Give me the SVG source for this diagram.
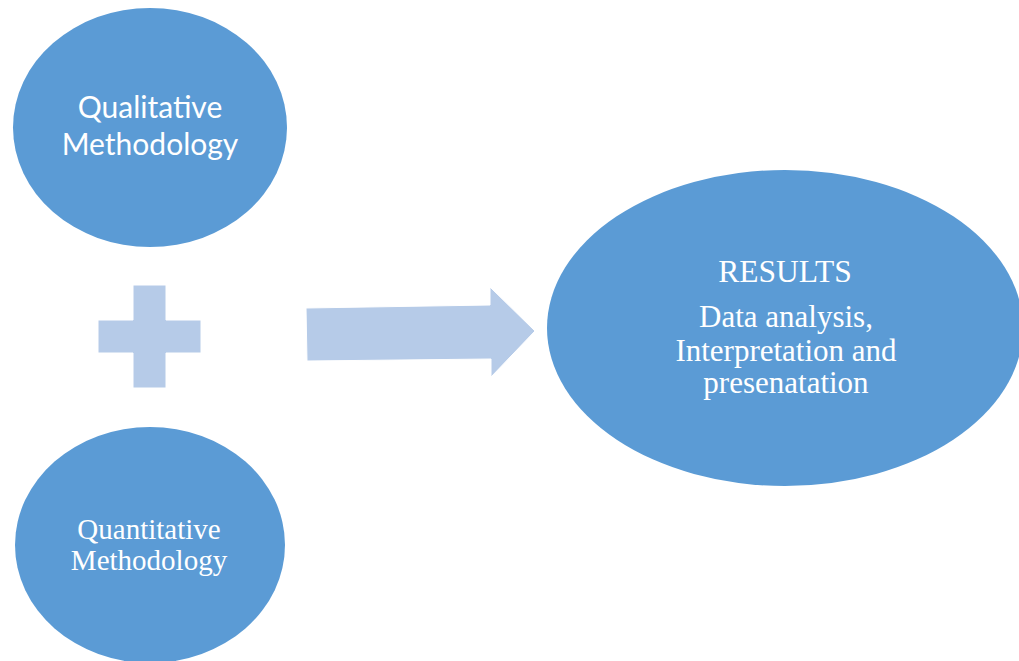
<svg xmlns="http://www.w3.org/2000/svg" width="1019" height="661" viewBox="0 0 1019 661">
  <style>
    .node { fill: #5B9BD5; }
    .shape { fill: #B6CBE8; stroke: #FFFFFF; stroke-width: 1; }
    .sans { font-family: Lato, "Liberation Sans", sans-serif; font-size: 30px; fill: #FFFFFF; text-anchor: middle; }
    .serif { font-family: "Liberation Serif", "Times New Roman", serif; fill: #FFFFFF; text-anchor: middle; }
  </style>
  <rect width="1019" height="661" fill="#FFFFFF"/>

  <g id="qualitative">
    <ellipse class="node" cx="150" cy="127.5" rx="137" ry="119.5"/>
    <text class="sans" x="150" y="118">Qualitative</text>
    <text class="sans" x="150" y="155">Methodology</text>
  </g>

  <g id="quantitative">
    <ellipse class="node" cx="150" cy="545" rx="135" ry="118"/>
    <text class="serif" font-size="29" x="149" y="539">Quantitative</text>
    <text class="serif" font-size="29" x="149" y="570">Methodology</text>
  </g>

  <g id="results">
    <ellipse class="node" cx="785" cy="328" rx="238" ry="158"/>
    <text class="serif" font-size="31.5" x="785" y="282">RESULTS</text>
    <text class="serif" font-size="31" x="786" y="327">Data analysis,</text>
    <text class="serif" font-size="31" x="786" y="361">Interpretation and</text>
    <text class="serif" font-size="31" x="786" y="393">presenatation</text>
  </g>

  <g id="connectors">
    <!-- plus sign between the two methodologies -->
    <path class="shape" d="M133,285 H166 V320 H201 V353 H166 V388 H133 V353 H98 V320 H133 Z"/>
    <!-- block arrow leading to the results -->
    <path class="shape" d="M306,308 L490,305 L490,287 L535,331 L491,377 L491,359 L307,361 Z"/>
  </g>
</svg>
